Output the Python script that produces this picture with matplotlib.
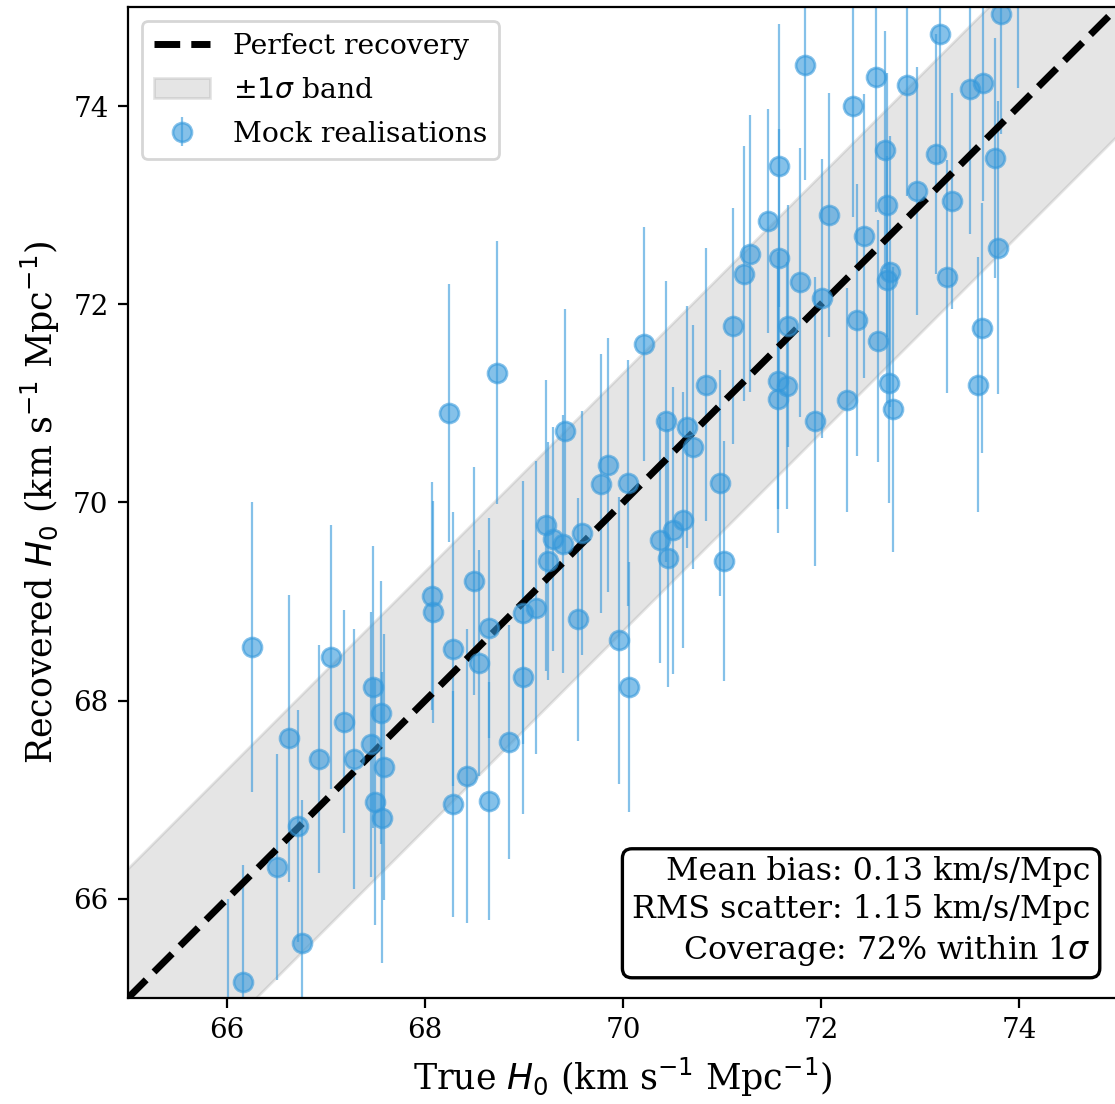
import matplotlib
matplotlib.use("Agg")
import matplotlib.pyplot as plt
import numpy as np

# Mock realisations (km/s/Mpc)
h0_true = [66.25, 66.51, 66.16, 66.76, 66.72, 66.63, 66.93, 67.18, 67.05, 67.28,
           67.47, 67.56, 67.45, 67.59, 67.49, 67.57, 68.24, 68.07, 68.08, 68.28,
           68.49, 68.28, 68.42, 68.65, 68.85, 68.99, 68.55, 68.65, 68.99, 69.12,
           68.73, 69.22, 69.29, 69.39, 69.24, 69.59, 69.55, 69.96, 69.41, 69.85,
           69.78, 70.05, 70.21, 70.37, 70.51, 70.61, 70.45, 70.06, 70.43, 70.65,
           70.71, 70.84, 70.98, 71.02, 71.11, 71.22, 71.28, 71.46, 71.58, 71.58,
           71.57, 71.66, 71.57, 71.67, 71.79, 71.84, 71.94, 72.01, 72.08, 72.26,
           72.32, 72.36, 72.43, 72.56, 72.58, 72.65, 72.67, 72.67, 72.70, 72.69,
           72.73, 72.87, 72.97, 73.16, 73.20, 73.27, 73.32, 73.50, 73.59, 73.63,
           73.64, 73.76, 73.79, 73.82, 66.01, 73.99]
h0_rec = [68.54, 66.32, 65.16, 65.56, 66.74, 67.62, 67.41, 67.79, 68.44, 67.41,
          68.14, 67.88, 67.56, 67.33, 66.98, 66.82, 70.90, 69.06, 68.90, 68.52,
          69.21, 66.96, 67.24, 66.99, 67.58, 68.24, 68.38, 68.73, 68.89, 68.94,
          71.31, 69.77, 69.63, 69.58, 69.41, 69.69, 68.82, 68.61, 70.72, 70.38,
          70.19, 70.20, 71.60, 69.62, 69.72, 69.82, 69.44, 68.14, 70.82, 70.76,
          70.56, 71.19, 70.20, 69.41, 71.78, 72.31, 72.51, 72.84, 73.40, 72.47,
          71.23, 71.18, 71.04, 71.78, 72.22, 74.41, 70.82, 72.06, 72.90, 71.03,
          74.00, 71.84, 72.69, 74.29, 71.63, 73.56, 73.00, 72.25, 72.33, 71.21,
          70.94, 74.21, 73.14, 73.52, 74.73, 72.28, 73.04, 74.17, 71.19, 71.76,
          74.23, 73.48, 72.57, 74.93, 64.85, 75.38]
h0_err = [1.46, 1.14, 1.18, 1.44, 1.17, 1.45, 1.15, 1.13, 1.33, 1.31,
          1.42, 1.33, 1.34, 1.34, 1.24, 1.47, 1.30, 1.15, 1.12, 1.38,
          1.15, 1.14, 1.48, 1.20, 1.18, 1.38, 1.14, 1.11, 1.33, 1.48,
          1.33, 1.47, 1.13, 1.30, 1.20, 1.23, 1.23, 1.45, 1.23, 1.28,
          1.31, 1.24, 1.18, 1.24, 1.45, 1.29, 1.30, 1.26, 1.42, 1.22,
          1.23, 1.38, 1.14, 1.21, 1.19, 1.29, 1.40, 1.13, 1.43, 1.30,
          1.30, 1.25, 1.35, 1.22, 1.36, 1.16, 1.46, 1.41, 1.23, 1.13,
          1.12, 1.37, 1.43, 1.36, 1.22, 1.20, 1.33, 1.25, 1.37, 1.22,
          1.44, 1.12, 1.25, 1.21, 1.30, 1.18, 1.09, 1.46, 1.29, 1.26,
          1.19, 1.21, 1.48, 1.21, 1.15, 1.20]

sigma_band = 1.3
h0_range = [65.0, 75.0]
ticks = [66, 68, 70, 72, 74]
stats_text = ("Mean bias: 0.13 km/s/Mpc\n"
              "RMS scatter: 1.15 km/s/Mpc\n"
              "Coverage: 72% within 1$\\sigma$")

plt.rcParams['font.family'] = 'serif'
plt.rcParams['font.serif'] = ['DejaVu Serif']

fig = plt.figure(figsize=(5.575, 5.52), dpi=200)
ax = fig.add_axes([128 / 1115, 106 / 1104, 990 / 1115, 991 / 1104])

line_x = np.array(h0_range)
band = ax.fill_between(line_x, line_x - sigma_band, line_x + sigma_band,
                       color='gray', alpha=0.2, label=r'$\pm1\sigma$ band')
eb = ax.errorbar(h0_true, h0_rec, yerr=h0_err, fmt='o', color='#3498db',
                 ecolor='#3498db', alpha=0.6, ms=6.8, elinewidth=0.8,
                 label='Mock realisations')
ln, = ax.plot(line_x, line_x, 'k--', lw=2.5, label='Perfect recovery')

ax.set_xlim(h0_range)
ax.set_ylim(h0_range)
ax.set_xticks(ticks)
ax.set_yticks(ticks)
ax.tick_params(labelsize=10)
ax.set_xlabel(r'True $H_0$ (km s$^{-1}$ Mpc$^{-1}$)', fontsize=12.5)
ax.set_ylabel(r'Recovered $H_0$ (km s$^{-1}$ Mpc$^{-1}$)', fontsize=12.5)

ax.legend(handles=[ln, band, eb], loc='upper left', fontsize=10.2,
          labelspacing=0.6)

ax.text(0.972, 0.03, stats_text, transform=ax.transAxes, fontsize=11.4,
        ha='right', va='bottom', multialignment='right', linespacing=1.3,
        bbox=dict(boxstyle='round', facecolor='white', edgecolor='black', lw=1.2))

fig.savefig('out.png', dpi=200)
